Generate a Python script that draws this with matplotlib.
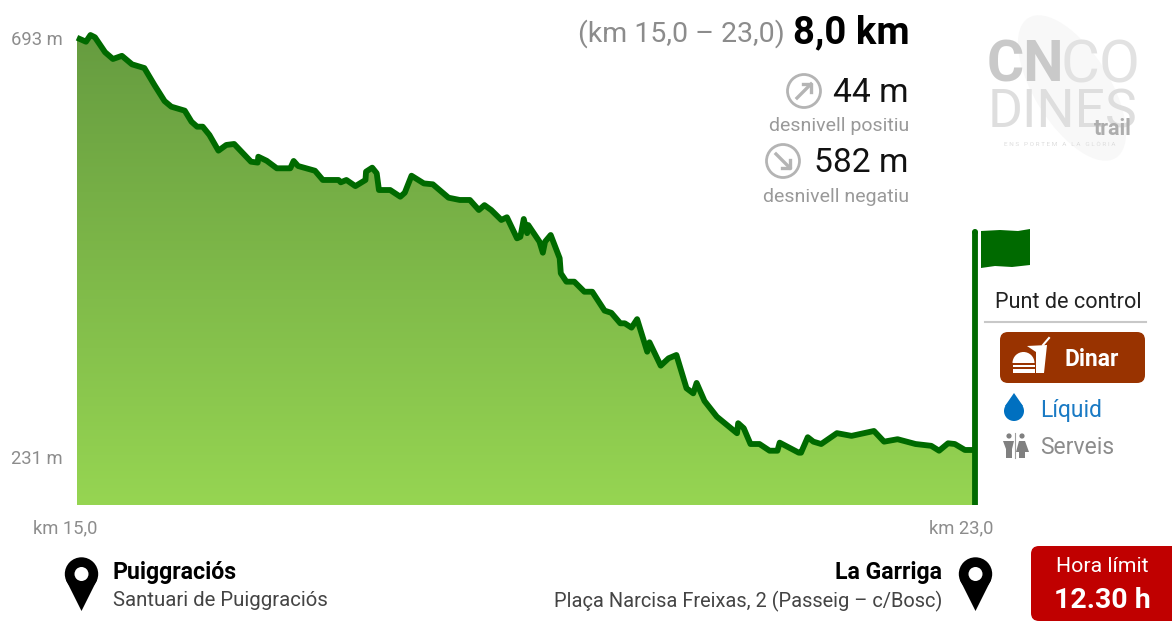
import numpy as np
import matplotlib
matplotlib.use('Agg')
from matplotlib import pyplot as plt
from matplotlib.colors import LinearSegmentedColormap
from matplotlib.patches import Circle, Ellipse, FancyBboxPatch, Polygon, Rectangle, Wedge
from matplotlib.transforms import ScaledTranslation

plt.rcParams['font.family'] = ['Roboto', 'DejaVu Sans']

# perfil de la etapa, llegit del grafic
km = [15.00, 15.08, 15.12, 15.16, 15.25, 15.32, 15.40, 15.49, 15.60, 15.69, 15.78, 15.84, 15.96,
      16.02, 16.07, 16.12, 16.18, 16.26, 16.33, 16.40, 16.55, 16.61, 16.615, 16.69, 16.78, 16.90,
      16.93, 16.97, 17.12, 17.19, 17.33, 17.35, 17.40, 17.48, 17.57, 17.575, 17.63, 17.67, 17.69,
      17.79, 17.88, 17.92, 17.98, 18.09, 18.17, 18.31, 18.41, 18.50, 18.58, 18.63, 18.69, 18.78,
      18.83, 18.92, 18.95, 18.98, 19.01, 19.02, 19.12, 19.15, 19.17, 19.22, 19.30, 19.31, 19.36,
      19.43, 19.52, 19.59, 19.70, 19.76, 19.84, 19.88, 19.94, 19.99, 20.08, 20.10, 20.20, 20.27,
      20.34, 20.43, 20.49, 20.52, 20.59, 20.70, 20.88, 20.89, 20.94, 21.00, 21.08, 21.17, 21.24,
      21.26, 21.43, 21.45, 21.51, 21.56, 21.63, 21.77, 21.90, 22.10, 22.19, 22.31, 22.47, 22.61,
      22.68, 22.76, 22.82, 22.91, 23.00]
elev = [690, 685.6, 693, 690.5, 674, 666.5, 670, 660.6, 656.5, 637.7, 620, 613.8, 609.4,
        597.2, 591.7, 591.7, 582.5, 565.2, 571.5, 572.6, 553, 552, 558.5, 554, 545.7, 545.7,
        553.8, 548.2, 543, 532.8, 532.8, 530.2, 532.8, 526, 532.8, 542, 546.4, 540.2, 521.7,
        521.7, 514.3, 518.7, 537.5, 529, 528, 513.2, 510.7, 510.7, 499.6, 505, 499.6, 488.6,
        491.6, 468.3, 470, 489.7, 474, 483, 464.6, 452.4, 464.6, 472, 446.3, 429.7, 420.4,
        420.4, 409.3, 409.3, 388.4, 386, 374.4, 374.4, 369.6, 379, 343, 353.4, 327.6, 335.7,
        339.4, 302.6, 297, 308.5, 288.6, 271.2, 252.9, 264, 258.4, 241, 241, 233.6, 233.6,
        242.5, 231.4, 231.4, 248.5, 243.6, 241, 253, 250, 255.4, 243.6, 246.3, 241, 239,
        233.6, 241.8, 241, 234.4, 234.4]

x_ticks = [15, 23]
x_labels = ['km 15,0', 'km 23,0']
y_ticks = [693, 231]
y_labels = ['693 m', '231 m']

GREEN = '#006a00'
GREY = '#8c8c8c'
W, H = 1172, 643
base, top = 173.6, 731.7

fig = plt.figure(figsize=(W / 100, H / 100), dpi=100, facecolor='white')
ax = fig.add_axes([77 / W, (H - 505) / H, 898 / W, 505 / H])

# area amb degradat
cmap = LinearSegmentedColormap.from_list('perfil', ['#669c40', '#96d552'])
grad = np.linspace(0, 1, 256).reshape(-1, 1)
im = ax.imshow(grad, cmap=cmap, aspect='auto', extent=[15, 23, base, max(elev)], origin='upper', zorder=1)
area = Polygon(list(zip(km, elev)) + [(km[-1], base), (km[0], base)], transform=ax.transData, fc='none', ec='none')
ax.add_patch(area)
im.set_clip_path(area)

ax.plot(km, elev, color=GREEN, lw=4.2, solid_joinstyle='round', solid_capstyle='butt', zorder=3, clip_on=False)
ax.vlines(km[-1], base, 475, color=GREEN, lw=4.2, zorder=4, clip_on=False)

ax.set_xlim(15, 23)
ax.set_ylim(base, top)
for s in ax.spines.values():
    s.set_visible(False)
ax.set_xticks(x_ticks, x_labels, color=GREY, fontsize=13.2)
ax.set_yticks(y_ticks, y_labels, color=GREY, fontsize=13.2)
ax.tick_params(length=0, pad=0)

# les etiquetes no cauen just sobre el valor
for lab, dx in zip(ax.get_xticklabels(), [-8.5, -10]):
    lab.set_transform(lab.get_transform() + ScaledTranslation(dx / 72, -10.5 / 72, fig.dpi_scale_trans))
for lab, dy in zip(ax.get_yticklabels(), [-2, -2.5]):
    lab.set_transform(lab.get_transform() + ScaledTranslation(-10 / 72, dy / 72, fig.dpi_scale_trans))

# capa de decoracio en pixels
ov = fig.add_axes([0, 0, 1, 1], facecolor='none')
ov.set_xlim(0, W)
ov.set_ylim(H, 0)
ov.axis('off')


def txt(x, y, s, size, color='black', ha='left', weight='normal', **kw):
    ov.text(x, y, s, fontsize=size, color=color, ha=ha, va='center', fontweight=weight, **kw)


def pin(cx):
    ov.add_patch(Polygon([(cx - 15.5, 580), (cx, 611), (cx + 15.5, 580)], fc='black', ec='none'))
    ov.add_patch(Circle((cx, 574), 16.7, fc='black', ec='none'))
    ov.add_patch(Circle((cx, 574), 7, fc='white', ec='none'))


def box(x0, y0, x1, y1, color):
    ov.add_patch(FancyBboxPatch((x0 + 8, y0 + 8), x1 - x0 - 16, y1 - y0 - 16, boxstyle='round,pad=8,rounding_size=8',
                                fc=color, ec='none'))


def arrow_icon(cx, cy, sign):
    # sign 1 puja, -1 baixa
    c = '#b4b4b4'
    ov.add_patch(Circle((cx, cy), 16.5, fc='none', ec=c, lw=2))
    ov.plot([cx - 7, cx + 7], [cy + sign * 7, cy - sign * 7], color=c, lw=2.4)
    ov.plot([cx - 1, cx + 7, cx + 7], [cy - sign * 7, cy - sign * 7, cy + sign * 1], color=c, lw=2.4)


# capcalera
txt(785, 34, '(km 15,0 – 23,0)', 20.5, GREY, ha='right')
txt(910, 33, '8,0 km', 27.5, 'black', ha='right', weight='bold')
arrow_icon(804, 91, 1)
txt(909, 93, '44 m', 24.2, '#111111', ha='right')
txt(909, 126, 'desnivell positiu', 14, '#999999', ha='right')
arrow_icon(783, 161, -1)
txt(909, 163, '582 m', 24.2, '#111111', ha='right')
txt(909, 197, 'desnivell negatiu', 14, '#999999', ha='right')

# logo
ov.add_patch(Ellipse((1072, 88), 75, 165, angle=-32, fc='#f8f8f8', ec='none'))
txt(987, 66, 'CN', 41, '#c9c9c9', weight='bold')
txt(1061, 66, 'CO', 43, '#e2e2e2')
txt(988, 113, 'DINES', 38.5, '#dedede')
txt(1094, 129, 'trail', 15.5, '#adadad', weight='bold')
txt(1060, 144, ' '.join('ENS PORTEM A LA GLÒRIA'), 4.6, '#dddddd', ha='center')

# bandera
ov.add_patch(Polygon([(981, 231), (1000, 230), (1018, 231), (1030, 229), (1030, 265), (1012, 267), (995, 266), (981, 268)],
                     fc=GREEN, ec='none'))
ov.add_patch(Circle((975, 232), 3, fc=GREEN, ec='none'))

# punt de control
txt(1068.5, 303, 'Punt de control', 15.6, '#222222', ha='center')
ov.plot([985, 1146], [322, 322], color='#c8c8c8', lw=1.5)
box(1000, 332, 1145, 383, '#993300')
txt(1092, 360, 'Dinar', 16.5, 'white', ha='center', weight='bold')
ov.add_patch(Wedge((1023.5, 363), 11, 180, 360, fc='white', ec='none'))
ov.add_patch(Rectangle((1012.5, 364.5), 22, 2.5, fc='white', ec='none'))
ov.add_patch(Rectangle((1012.5, 369), 22, 4, fc='white', ec='none'))
ov.add_patch(Polygon([(1027, 346), (1047, 345), (1044, 373), (1036, 373), (1036, 352)], fc='white', ec='none'))
ov.plot([1043, 1049], [345, 338], color='white', lw=1.5)

ov.add_patch(Circle((1014, 411), 10, fc='#0070c0', ec='none'))
ov.add_patch(Polygon([(1005, 406), (1014, 393), (1023, 406)], fc='#0070c0', ec='none'))
txt(1040, 410, 'Líquid', 16.5, '#1a7ac4')
for cx in [1009, 1022]:
    ov.add_patch(Circle((cx, 436), 2.6, fc='#808080', ec='none'))
ov.add_patch(Polygon([(1003, 441), (1014, 441), (1012, 449), (1012, 458), (1006, 458), (1006, 449)], fc='#808080', ec='none'))
ov.add_patch(Polygon([(1019, 441), (1025, 441), (1029, 452), (1025, 452), (1025, 458), (1019, 458), (1019, 452), (1016, 452)],
                     fc='#808080', ec='none'))
ov.plot([1015, 1015], [433, 458], color='#a0a0a0', lw=0.8)
txt(1040, 448, 'Serveis', 16.5, GREY)

# inici i arribada
pin(81.5)
txt(113, 573, 'Puiggraciós', 16.7, 'black', weight='bold')
txt(113, 601, 'Santuari de Puiggraciós', 14.7, '#444444')
pin(975.5)
txt(942, 573, 'La Garriga', 16.7, 'black', ha='right', weight='bold')
txt(942, 601, 'Plaça Narcisa Freixas, 2 (Passeig – c/Bosc)', 14.45, '#444444', ha='right')

box(1031, 546, 1180, 621, '#c00000')
ov.set_xlim(0, W)
txt(1102, 566, 'Hora límit', 15.3, 'white', ha='center')
txt(1102, 601, '12.30 h', 20.5, 'white', ha='center', weight='bold')

fig.savefig('out.png', dpi=100, facecolor='white')
